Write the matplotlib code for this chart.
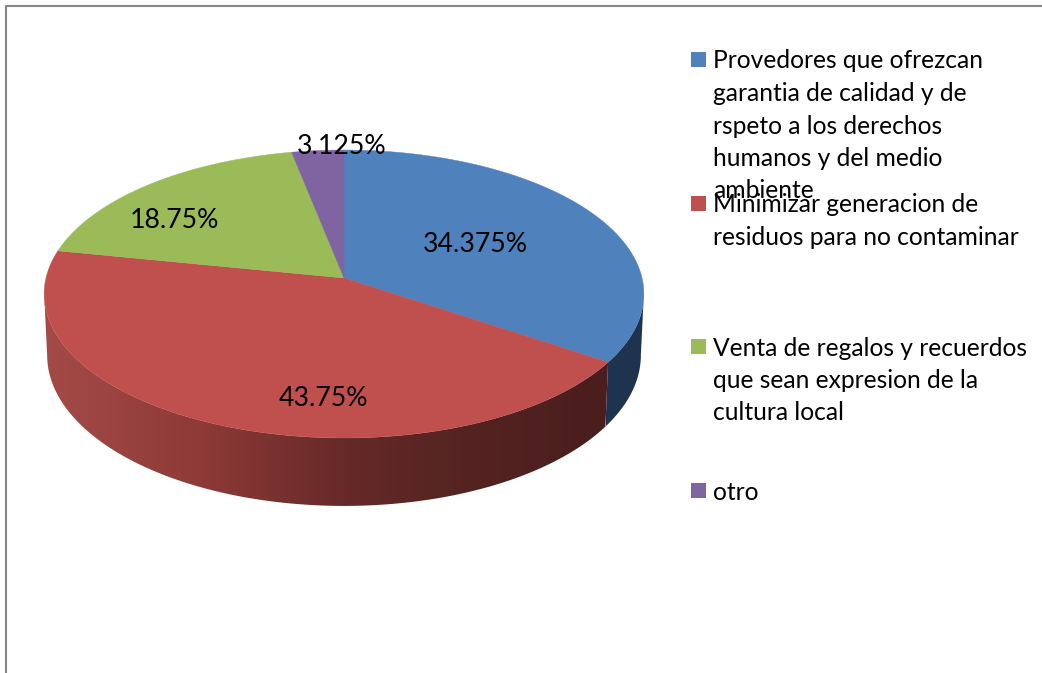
import numpy as np
import matplotlib
matplotlib.use('Agg')
import matplotlib.pyplot as plt
from matplotlib.patches import Rectangle, Polygon

categories = ['Provedores que ofrezcan\ngarantia de calidad y de\nrspeto a los derechos\nhumanos y del medio\nambiente',
              'Minimizar generacion de\nresiduos para no contaminar',
              'Venta de regalos y recuerdos\nque sean expresion de la\ncultura local',
              'otro']
values = [34.375, 43.75, 18.75, 3.125]
value_labels = ['34.375%', '43.75%', '18.75%', '3.125%']
colors = ['#4F81BD', '#C0504D', '#9BBB59', '#8064A2']

label_pos = [(475, 244), (323, 398), (174, 220), (342, 146)]
legend_y = [61, 205, 348, 492]

# tilted disc, perspective from circle to screen
cx, cy, A, B, k = 344, 278, 298, 142.2, 1 / 9
depth = 60.4


def project(theta):
    u, v = np.sin(theta), -np.cos(theta)
    w = 1 - k * v
    return cx + A * u / w, cy + B * v / w, w


def wall_color(x, i):
    if i == 0:
        return np.tile(np.array([0x1E, 0x34, 0x4F]) / 255, (len(x), 1))
    xs = [50, 200, 344, 450, 600]
    rs = [0xA3, 0x8E, 0x66, 0x56, 0x4A]
    gs = [0x4A, 0x3A, 0x2A, 0x24, 0x1E]
    bs = [0x47, 0x37, 0x28, 0x22, 0x1D]
    return np.column_stack([np.interp(x, xs, rs), np.interp(x, xs, gs), np.interp(x, xs, bs)]) / 255


fig = plt.figure(figsize=(10.42, 6.73), dpi=100)
ax = fig.add_axes([0, 0, 1, 1])

edges = np.concatenate([[0], np.cumsum(values)]) / sum(values) * 2 * np.pi

# only the front of the wall shows, from the rightmost to the leftmost point of the disc
grid = np.linspace(0, 2 * np.pi, 2000)
grid_x = project(grid)[0]
th_right, th_left = grid[grid_x.argmax()], grid[grid_x.argmin()]

for i in range(len(values)):
    t0, t1 = max(edges[i], th_right), min(edges[i + 1], th_left)
    if t1 <= t0:
        continue
    th = np.linspace(t0, t1, 200)
    x, y, w = project(th)
    x2 = cx + 0.99 * (x - cx)
    y2 = y + depth / w
    wall = Polygon(np.column_stack([np.r_[x, x2[::-1]], np.r_[y, y2[::-1]]]), transform=ax.transData, fc='none', lw=0)
    ax.add_patch(wall)
    xg = np.linspace(x.min() - 2, x.max() + 2, 300)
    im = ax.imshow(wall_color(xg, i)[np.newaxis, :, :], extent=(xg[0], xg[-1], y2.max() + 2, y.min() - 2),
                   aspect='auto', interpolation='bilinear', zorder=2)
    im.set_clip_path(wall)

for i in range(len(values)):
    th = np.linspace(edges[i], edges[i + 1], 200)
    x, y, w = project(th)
    ax.fill(np.r_[cx, x], np.r_[cy, y], color=colors[i], lw=0.3, zorder=3)

for lab, (x, y) in zip(value_labels, label_pos):
    ax.text(x, y, lab, fontsize=19.2, family='Lato', color='black', ha='center', va='center', zorder=5)

for c, cat, y in zip(colors, categories, legend_y):
    ax.add_patch(Rectangle((691, y - 9), 15, 15, color=c, lw=0, zorder=4))
    for n, line in enumerate(cat.split('\n')):
        ax.text(713, y + n * 32.5, line, fontsize=17.7, family='Lato', color='black', ha='left', va='center', zorder=5)

ax.set_xlim(0, 1042)
ax.set_ylim(673, 0)
ax.axis('off')

# frame of the pasted picture
fig.add_artist(plt.Line2D([5.5 / 1042, 5.5 / 1042, 1], [0, 1 - 5.5 / 673, 1 - 5.5 / 673], color='#868686', lw=1.5))

fig.savefig('out.png', dpi=100)
